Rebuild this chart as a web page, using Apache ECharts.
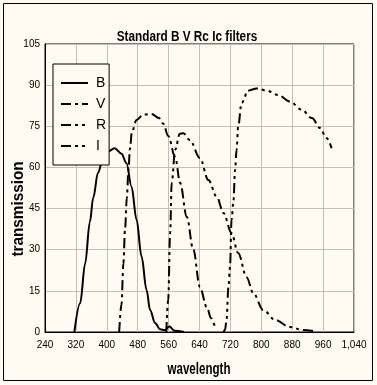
<!DOCTYPE html>
<html>
<head>
<meta charset="utf-8">
<script src="https://cdn.jsdelivr.net/npm/echarts@6/dist/echarts.min.js"></script>
<style>
html,body{margin:0;padding:0;background:#fffbf3;}
#c{width:377px;height:385px;}
</style>
</head>
<body>
<div id="c"></div>
<script>
var titleText = 'Standard B V Rc Ic filters';
var xName = 'wavelength';
var yName = 'transmission';
var seriesNames = ['B', 'V', 'R', 'I'];
var xTicks = [240, 320, 400, 480, 560, 640, 720, 800, 880, 960, 1040];
var yTicks = [0, 15, 30, 45, 60, 75, 90, 105];

var bWave = [316, 331, 344, 356, 365, 377, 390, 405, 420, 438, 451, 464, 477, 490, 503, 512, 525, 538, 550, 562, 575, 600];
var bVal  = [0, 10.5, 25, 40, 49, 58, 63, 66, 67, 65, 61.5, 53, 41, 27.5, 15.3, 8, 3.3, 1, 0.7, 2, 0.5, 0];

var vWave = [432, 438, 443, 447, 452, 456, 460, 465, 477, 495, 516, 535, 546, 559, 577, 590, 607, 624, 641, 659, 670, 680];
var vVal  = [0, 10, 25, 37, 49, 59, 67, 73, 77.3, 79.3, 79.5, 78, 76, 71.5, 63.8, 54.3, 42, 30, 16.4, 9, 5, 1.8];

var rWave = [554, 559, 564, 568, 577, 589, 598, 615, 641, 663, 685, 702, 723, 740, 762, 779, 805, 836, 874, 909, 943];
var rVal  = [0, 11.7, 36, 54.3, 66.4, 72.3, 72.5, 70, 63.4, 55.4, 49.2, 43.4, 36, 28.8, 20, 14.2, 8, 4.4, 1.8, 0.7, 0.1];

var iWave = [702, 706, 710, 715, 719, 723, 728, 732, 736, 740, 749, 766, 788, 814, 844, 874, 905, 931, 952, 969, 982];
var iVal  = [0, 0.7, 4.4, 16.5, 23.7, 40.8, 48, 59, 66.4, 74.8, 83.5, 88, 88.8, 88, 86.4, 84, 81, 78, 74.4, 70.7, 67];

function pairs(xs, ys) { return xs.map(function (x, i) { return [x, ys[i]]; }); }

var FONT = "'Liberation Sans', Arial, sans-serif";

function mk(name, xs, ys, dash) {
  return {
    name: name, type: 'line', data: pairs(xs, ys),
    smooth: 0.35, smoothMonotone: 'x', symbol: 'none', showSymbol: false,
    legendIcon: 'none',
    lineStyle: { color: '#000', width: 2, type: dash },
    itemStyle: { color: '#000' }
  };
}

function narrowText(text, x, y, size, scaleX, rotation) {
  return {
    type: 'text', x: x, y: y, rotation: rotation || 0, scaleX: scaleX, scaleY: 1,
    style: { text: text, font: 'bold ' + size + 'px ' + FONT, fill: '#000', align: 'center', verticalAlign: 'middle' },
    z: 10
  };
}

var chart = echarts.init(document.getElementById('c'), null, { renderer: 'canvas' });
chart.setOption({
  backgroundColor: '#fffbf3',
  animation: false,
  graphic: [
    { type: 'rect', shape: { x: 3.5, y: 3.5, width: 369, height: 377 },
      style: { fill: 'none', stroke: '#000', lineWidth: 1 }, z: -1 },
    narrowText(titleText, 187, 37, 14, 0.84, 0),
    narrowText(xName, 199, 369, 17, 0.68, 0),
    { type: 'group', x: 18, y: 209, rotation: Math.PI / 2,
      children: [ { type: 'text', x: 0, y: 0, scaleX: 0.9,
        style: { text: yName, font: 'bold 17px ' + FONT, fill: '#000', align: 'center', verticalAlign: 'middle' } } ] }
  ],
  grid: { left: 45, top: 44, width: 309, height: 288, outerBoundsMode: 'none', containLabel: false,
    show: true, backgroundColor: '#fffbf3', borderColor: '#000', borderWidth: 1 },
  legend: {
    orient: 'vertical', left: 53, top: 64,
    data: seriesNames,
    itemWidth: 27, itemHeight: 14, itemGap: 7,
    padding: [12, 3, 12, 7],
    itemStyle: { opacity: 0 },
    lineStyle: { width: 2 },
    backgroundColor: '#fffbf3', borderColor: '#000', borderWidth: 1, borderRadius: 0,
    textStyle: { fontFamily: FONT, fontSize: 14, color: '#000', padding: [0, 0, 0, 3] }
  },
  xAxis: {
    type: 'value', min: xTicks[0], max: xTicks[xTicks.length - 1], interval: 80,
    axisLine: { show: true, onZero: false, lineStyle: { color: '#000' } },
    axisTick: { show: false },
    axisLabel: { fontFamily: FONT, fontSize: 10, color: '#000', margin: 8,
      formatter: function (v) { return v >= 1000 ? echarts.format.addCommas(v) : String(v); } },
    splitLine: { show: true, lineStyle: { color: '#c4beb6', width: 1 } }
  },
  yAxis: {
    type: 'value', min: yTicks[0], max: yTicks[yTicks.length - 1], interval: 15,
    axisLine: { show: true, lineStyle: { color: '#000' } },
    axisTick: { show: false },
    axisLabel: { fontFamily: FONT, fontSize: 10, color: '#000', margin: 5 },
    splitLine: { show: true, lineStyle: { color: '#c4beb6', width: 1 } }
  },
  series: [
    mk(seriesNames[0], bWave, bVal, 'solid'),
    mk(seriesNames[1], vWave, vVal, [10, 4, 3, 4]),
    mk(seriesNames[2], rWave, rVal, [10, 4, 3, 4, 3, 4]),
    mk(seriesNames[3], iWave, iVal, [10, 4, 3, 4, 3, 4, 3, 4])
  ]
});
</script>
</body>
</html>
